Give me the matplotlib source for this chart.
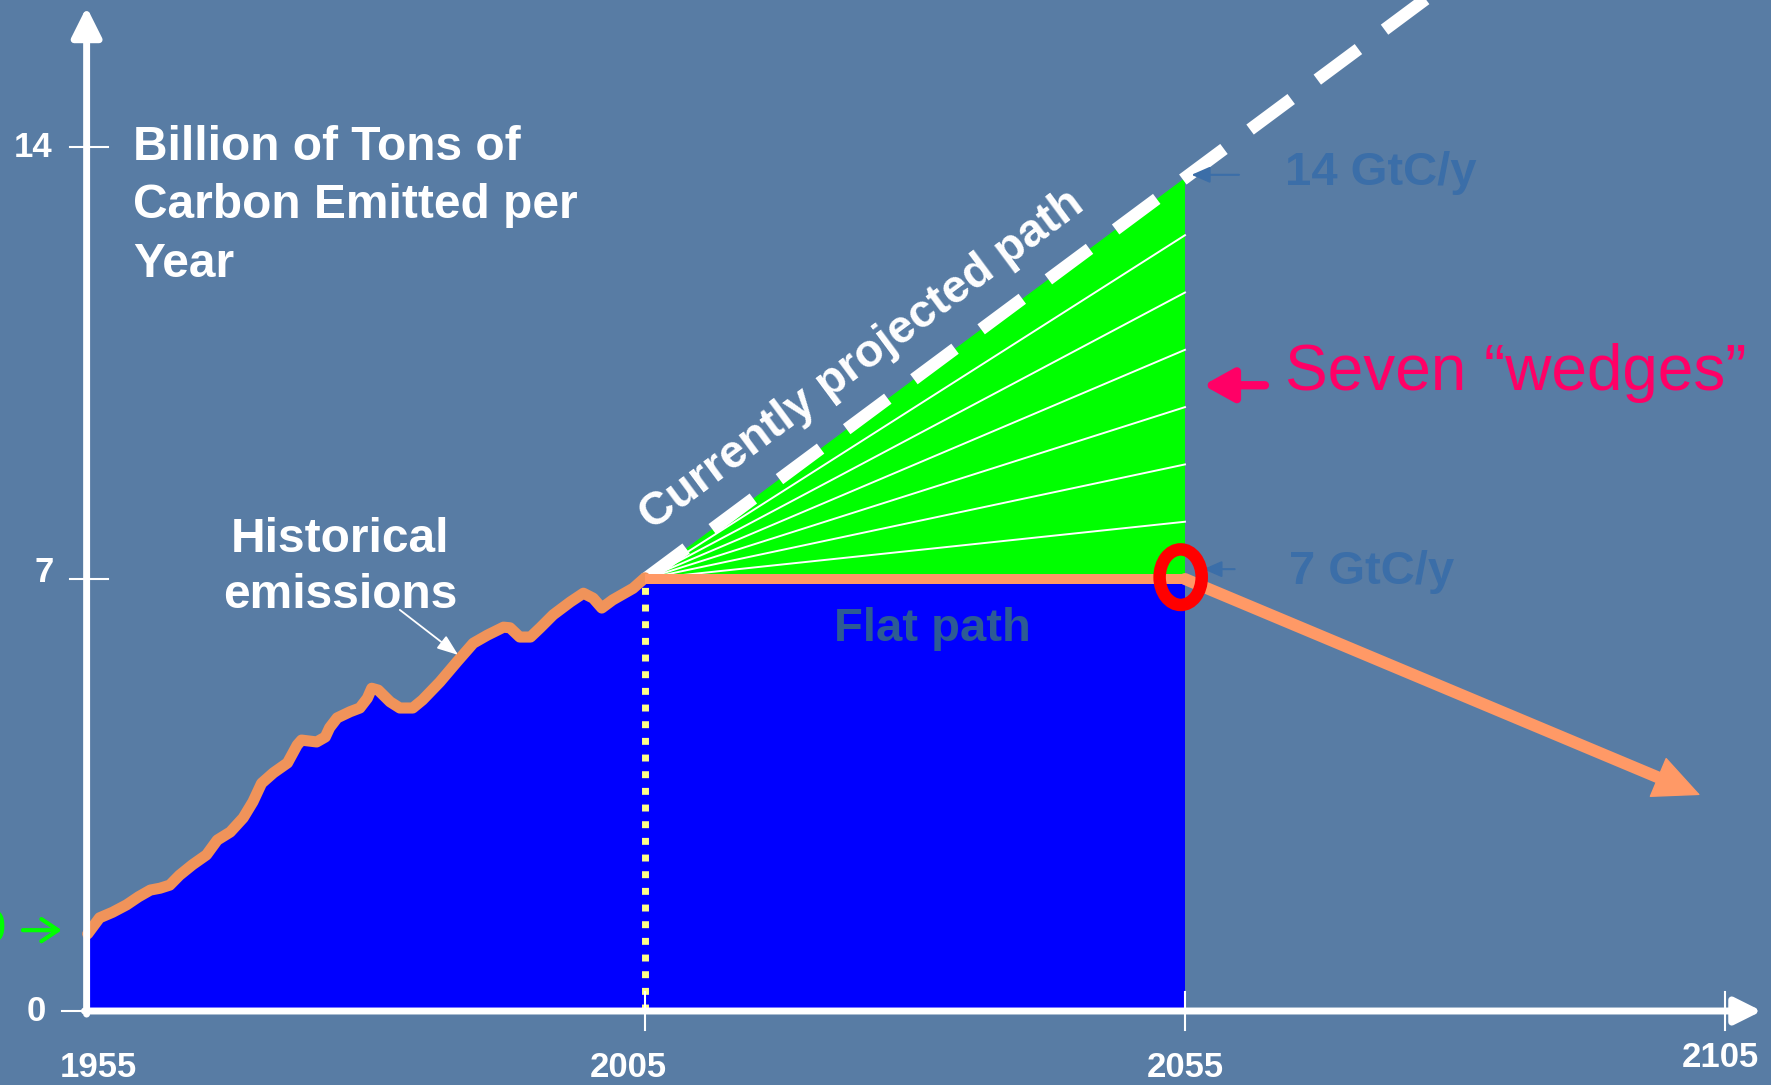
import numpy as np
import matplotlib.pyplot as plt
from matplotlib.patches import Ellipse, Polygon

plt.rcParams['font.family'] = ['Liberation Sans', 'DejaVu Sans']

# Datos (GtC por anio)
hist_years = [1953.4, 1954.5, 1955.7, 1957.0, 1958.1, 1959.2, 1960.1, 1961.0, 1961.9, 1963.1,
              1964.4, 1965.4, 1966.6, 1967.8, 1968.7, 1969.5, 1970.6, 1971.9, 1972.8, 1973.2,
              1974.6, 1975.4, 1975.8, 1976.5, 1977.7, 1978.6, 1979.3, 1979.7, 1980.3, 1981.4,
              1982.3, 1983.5, 1984.4, 1986.0, 1987.6, 1989.1, 1990.4, 1991.9, 1992.5, 1993.4,
              1994.4, 1995.3, 1996.5, 1998.1, 1999.3, 2000.2, 2001.0, 2002.0, 2003.9, 2005.0]
hist_gtc = [1.25, 1.51, 1.60, 1.72, 1.85, 1.96, 1.99, 2.04, 2.20, 2.37,
            2.53, 2.77, 2.90, 3.13, 3.39, 3.69, 3.86, 4.02, 4.31, 4.39,
            4.36, 4.44, 4.59, 4.75, 4.85, 4.91, 5.07, 5.23, 5.20, 5.01,
            4.91, 4.91, 5.04, 5.33, 5.66, 5.96, 6.09, 6.22, 6.21, 6.06,
            6.06, 6.21, 6.42, 6.63, 6.77, 6.69, 6.53, 6.66, 6.85, 7.02]

proj_years = [2005, 2055]
proj_gtc = [7.0, 13.5]      # tal como esta dibujado (etiqueta: 14 GtC/y)
flat_years = [2005, 2055]
flat_gtc = [7.0, 7.0]
decline_years = [2055, 2102.7]
decline_gtc = [7.0, 3.5]
n_wedges = 7

ytick_vals = [0, 7, 14]
ytick_labels = ['0', '7', '14']
xtick_vals = [2005, 2055, 2105]
xlabel_years = [1954.4, 2003.5, 2055.0, 2104.6]
xlabel_texts = ['1955', '2005', '2055', '2105']

bg = '#587ca4'
orange = '#f0935a'
orange2 = '#ff9966'
blue_txt = '#3b6ea8'

fig = plt.figure(figsize=(17.71, 10.85), dpi=100)
fig.patch.set_facecolor(bg)
ax = fig.add_axes([0, 0, 1, 1])
ax.set_facecolor(bg)
ax.set_xlim(1945.28, 2109.26)
ax.set_ylim(-1.199, 16.383)
ax.axis('off')

x0 = 1953.3  # posicion del eje vertical

# Area azul: historico + camino plano
hx = np.array([x0] + hist_years)
hy = np.array([hist_gtc[0]] + hist_gtc)
ax.fill_between(hx, 0, hy, color='#0000ff', lw=0, zorder=2)
ax.fill_between(flat_years, 0, flat_gtc, color='#0000ff', lw=0, zorder=2)

# Triangulo verde con las 7 cunias
tri = Polygon([[proj_years[0], proj_gtc[0]], [proj_years[1], proj_gtc[1]], [flat_years[1], flat_gtc[1]]],
              closed=True, color='#00ff00', lw=0, zorder=3)
ax.add_patch(tri)
step = (proj_gtc[1] - flat_gtc[1]) / n_wedges
for k in range(1, n_wedges):
    ax.plot([proj_years[0], proj_years[1]], [proj_gtc[0], flat_gtc[1] + k * step],
            color='white', lw=1.4, zorder=4)

# Camino proyectado (linea blanca discontinua)
slope = (proj_gtc[1] - proj_gtc[0]) / (proj_years[1] - proj_years[0])
ext_x = [proj_years[0], 2085]
ext_y = [proj_gtc[0], proj_gtc[0] + slope * (2085 - proj_years[0])]
ax.plot(ext_x, ext_y, color='white', lw=9, dashes=(4.1, 2.6), solid_capstyle='butt',
        dash_capstyle='butt', zorder=5)

# Curva historica y camino plano
ax.plot(hx[1:], hy[1:], color=orange, lw=8, solid_capstyle='round', solid_joinstyle='round', zorder=6)
ax.plot(flat_years, flat_gtc, color=orange2, lw=7.2, solid_capstyle='butt', zorder=6)
ax.plot(decline_years[:1] + [decline_years[0] + 0.95 * (decline_years[1] - decline_years[0])],
        [decline_gtc[0], decline_gtc[0] + 0.95 * (decline_gtc[1] - decline_gtc[0])],
        color=orange2, lw=8.6, solid_capstyle='round', zorder=6)
ax.annotate('', xy=(decline_years[1], decline_gtc[1]), xytext=(decline_years[0], decline_gtc[0]),
            arrowprops=dict(arrowstyle='-|>,head_length=0.75,head_width=0.35', color=orange2, lw=1,
                            mutation_scale=42, shrinkA=0, shrinkB=0), zorder=6)

# Linea punteada amarilla en 2005
ax.plot([2005, 2005], [0, 7], color='#ffff88', lw=5, dashes=(1, 1.4), zorder=7)

# Ejes
ax.annotate('', xy=(x0, 16.27), xytext=(x0, -0.05),
            arrowprops=dict(arrowstyle='-|>,head_length=0.9,head_width=0.45', color='white', lw=5,
                            mutation_scale=20, shrinkA=0, shrinkB=0), zorder=8)
ax.annotate('', xy=(2108.4, 0), xytext=(x0 - 0.2, 0),
            arrowprops=dict(arrowstyle='-|>,head_length=0.8,head_width=0.4', color='white', lw=5,
                            mutation_scale=20, shrinkA=0, shrinkB=0), zorder=8)
for v in ytick_vals:
    if v == 0:
        ax.plot([1951.0, x0], [v, v], color='white', lw=1.5, zorder=8)
    else:
        ax.plot([1951.8, 1955.3], [v, v], color='white', lw=1.5, zorder=8)
for v in xtick_vals:
    ax.plot([v, v], [0.3, -0.3], color='white', lw=1.5, zorder=8)

ypos_labels = [(1948.6, 0.0), (1949.4, 7.1), (1948.3, 14.0)]
for (lx, ly), t in zip(ypos_labels, ytick_labels):
    ax.text(lx, ly, t, color='white', fontsize=25, fontweight='bold', ha='center', va='center', zorder=9)
for lx, t in zip(xlabel_years, xlabel_texts):
    ly = -0.76 if t == '2105' else -0.91
    ax.text(lx, ly, t, color='white', fontsize=25, fontweight='bold', ha='center', va='center', zorder=9)

# Titulo del eje
for t, b in zip(['Billion of Tons of', 'Carbon Emitted per', 'Year'], [13.79, 12.85, 11.89]):
    ax.text(1957.6, b, t, color='white', fontsize=34.5, fontweight='bold', ha='left', va='baseline', zorder=9)

# Emisiones historicas
for t, b in zip(['Historical', 'emissions'], [7.44, 6.53]):
    ax.text(1976.8, b, t, color='white', fontsize=34.5, fontweight='bold', ha='center', va='baseline', zorder=9)
ax.annotate('', xy=(1987.7, 5.77), xytext=(1982.3, 6.50),
            arrowprops=dict(arrowstyle='-|>,head_length=0.8,head_width=0.3', color='white', lw=1.3,
                            mutation_scale=16, shrinkA=0, shrinkB=0), zorder=9)

# Texto rotado sobre el camino proyectado
p1 = ax.transData.transform((proj_years[0], proj_gtc[0]))
p2 = ax.transData.transform((proj_years[1], proj_gtc[1]))
ang = np.degrees(np.arctan2(p2[1] - p1[1], p2[0] - p1[0]))
ax.text(2025.1, 10.55, 'Currently projected path', color='white', fontsize=33.5, fontweight='bold',
        rotation=ang, rotation_mode='anchor', ha='center', va='center', zorder=9)

# Etiquetas a la derecha
ax.text(2064.3, 13.58, '14 GtC/y', color=blue_txt, fontsize=34, fontweight='bold', ha='left', va='center', zorder=9)
ax.annotate('', xy=(2055.6, 13.55), xytext=(2060.0, 13.55),
            arrowprops=dict(arrowstyle='-|>,head_length=0.8,head_width=0.35', color=blue_txt, lw=1.5,
                            mutation_scale=14, shrinkA=0, shrinkB=0), zorder=9)
ax.text(2064.6, 7.11, '7 GtC/y', color=blue_txt, fontsize=34, fontweight='bold', ha='left', va='center', zorder=9)
ax.annotate('', xy=(2056.7, 7.16), xytext=(2059.6, 7.16),
            arrowprops=dict(arrowstyle='-|>,head_length=0.8,head_width=0.35', color=blue_txt, lw=1.5,
                            mutation_scale=14, shrinkA=0, shrinkB=0), zorder=9)
ax.text(2064.3, 10.34, 'Seven \u201cwedges\u201d', color='#ff0066', fontsize=46, ha='left', va='center', zorder=9)
ax.annotate('', xy=(2056.7, 10.14), xytext=(2062.4, 10.14),
            arrowprops=dict(arrowstyle='-|>,head_length=0.9,head_width=0.5', color='#ff0066', lw=6,
                            mutation_scale=20, shrinkA=0, shrinkB=0), zorder=9)

# Camino plano
ax.text(2031.6, 6.0, 'Flat path', color='#2d5b94', fontsize=34, fontweight='bold', ha='center', va='baseline', zorder=9)

# Circulo rojo en 2055
ax.add_patch(Ellipse((2054.6, 7.03), 3.9, 0.9, fill=False, ec='#ff0000', lw=9, zorder=10))

# Flecha verde a la izquierda (texto cortado en el borde, como en el original)
ax.text(1945.75, 1.31, '0', color='#00ff00', fontsize=34, fontweight='bold', ha='right', va='center', zorder=9)
ax.annotate('', xy=(1951.0, 1.31), xytext=(1947.4, 1.31),
            arrowprops=dict(arrowstyle='->,head_length=0.6,head_width=0.4', color='#00ff00', lw=3,
                            mutation_scale=20, shrinkA=0, shrinkB=0), zorder=9)

fig.savefig('out.png', dpi=100, facecolor=bg)
